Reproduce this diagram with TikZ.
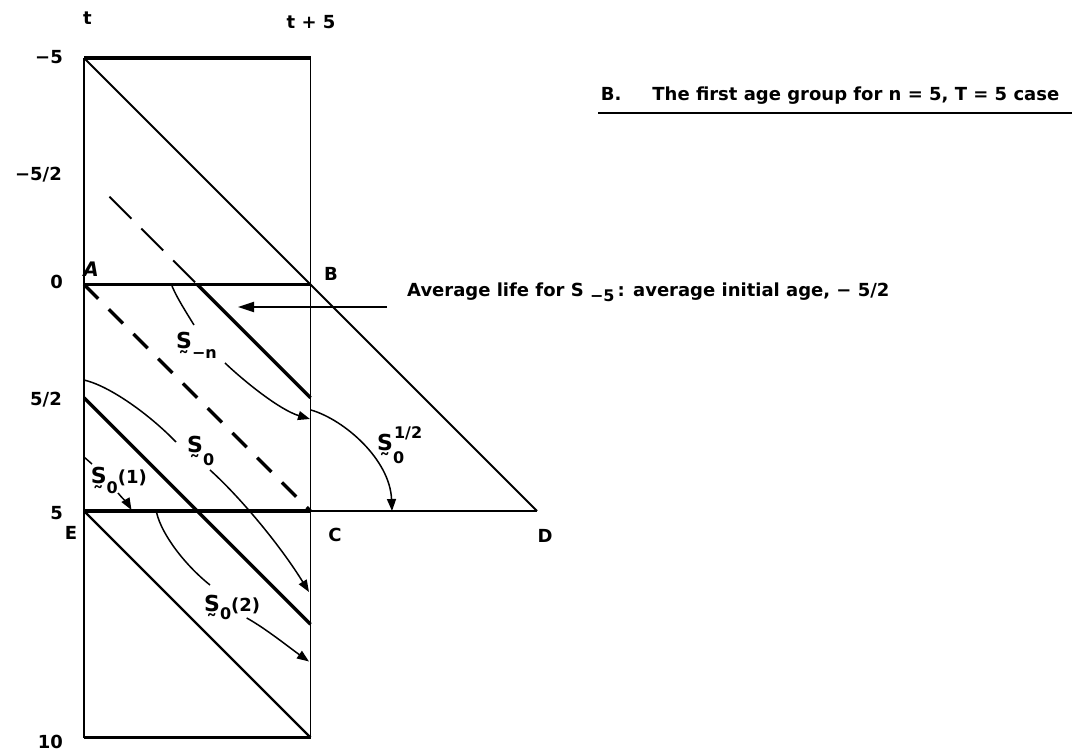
\documentclass[tikz,border=0pt]{standalone}
\usepackage{fontspec}
\setmainfont{DejaVu Sans}
\usetikzlibrary{arrows.meta}
\newcommand{\tilS}{{\fontsize{22}{24}\selectfont S^^^^0330}}
\newcommand{\lowsub}[2][-11pt]{\raisebox{#1}{\fontsize{16}{16}\selectfont #2}}
\newcommand{\highsup}[2][12pt]{\raisebox{#1}{\fontsize{16}{16}\selectfont #2}}
\tikzset{
  lbl/.style={font=\fontsize{18}{20}\selectfont\bfseries, inner sep=0pt},
  thickln/.style={line width=3.4pt},
  normln/.style={line width=2.2pt},
  thinln/.style={line width=1.9pt},
  crv/.style={line width=1.5pt},
  crvarrow/.style={crv, -{Triangle[length=12pt,width=9pt]}},
  bigarrow/.style={line width=1.8pt, -{Triangle[length=16pt,width=10pt]}},
  thickdash/.style={dash pattern=on 20pt off 15pt},
  thindash/.style={dash pattern=on 31pt off 14pt, dash phase=33pt},
}
\begin{document}
\begin{tikzpicture}[x=1pt,y=-1pt]
\useasboundingbox (0,0) rectangle (1089,754);
% key points
\coordinate (TL) at (84,58);
\coordinate (TR) at (310.5,58);
\coordinate (BL) at (84,737.5);
\coordinate (BR) at (310.5,737.5);
\coordinate (A) at (84,284.5);
\coordinate (B) at (310.5,284.5);
\coordinate (E) at (84,511);
\coordinate (C) at (310.5,511);
\coordinate (D) at (537,511);
\coordinate (Lm) at (84,171.25);
\coordinate (Lm2) at (101,188.25);
\coordinate (Hm) at (197.25,284.5);
\coordinate (Rp) at (310.5,397.75);
\coordinate (Lp) at (84,397.75);
\coordinate (R75) at (310.5,624.25);
% frame
\draw[thickln] (TL) -- (TR);
\draw[normln] (TL) -- (BL);
\draw[thinln] (TR) -- (BR);
\draw[normln] (BL) -- (BR);
\draw[thickln] (A) -- (B);
\draw[thickln] (E) -- (C);
\draw[normln] (C) -- (D);
% diagonals
\draw[thinln] (TL) -- (D);
\draw[thinln, thindash] (Lm2) -- (Hm);
\draw[thickln] (Hm) -- (Rp);
\draw[thickln, thickdash] (A) -- (C);
\draw[thickln] (Lp) -- (R75);
\draw[normln] (E) -- (BR);
% axis labels
\node[lbl] (tlab) at (87.5,18) {t};
\node[lbl] (t5lab) at (311,22.5) {t + 5};
\node[lbl, anchor=east] (m5) at (63,57.5) {−5};
\node[lbl, anchor=east] (m52) at (62,175) {−5/2};
\node[lbl, anchor=east] (z0) at (63,281.5) {0};
\node[lbl, anchor=east] (p52) at (62,400) {5/2};
\node[lbl, anchor=east] (p5) at (63,513) {5};
\node[lbl, anchor=east] (p10) at (63,742) {10};
% point labels
\node[lbl, font=\fontsize{20}{22}\selectfont\bfseries\itshape] (Alab) at (91,269) {A};
\node[lbl] (Blab) at (331,274) {B};
\node[lbl] (Clab) at (335,535) {C};
\node[lbl] (Dlab) at (545,536) {D};
\node[lbl] (Elab) at (71,533) {E};
% title
\node[lbl, anchor=base west] (title) at (600.7,100.7) {B.\hspace{31pt}The first age group for n = 5, T = 5 case};
\coordinate (ulL) at (598,113);
\coordinate (ulR) at (1072,113);
\draw[normln] (ulL) -- (ulR);
% average life annotation
\node[lbl, anchor=base west] (avg) at (407,296.7) {Average life for S\ \lowsub[-5pt]{−5}\,: average initial age, − 5/2};
\coordinate (avgtail) at (387,307);
\coordinate (avgtip) at (238,307);
\draw[bigarrow] (avgtail) -- (avgtip);
% S_{-n}
\node[lbl, anchor=base west] (snlab) at (176,348) {\tilS\lowsub[-10pt]{−n}};
\coordinate (sn0) at (172,286);
\coordinate (sn1) at (194,325);
\coordinate (sn2) at (225,363);
\coordinate (sn3) at (310,419);
\draw[crv] (sn0) .. controls (177,298) and (186,312) .. (sn1);
\draw[crvarrow] (sn2) .. controls (245,382) and (280,410) .. (sn3);
% S_0^{1/2}
\node[lbl, anchor=base west] (s12lab) at (377,450) {\tilS\rlap{\hspace{1pt}\highsup{1/2}}\lowsub[-13pt]{0}};
\coordinate (s12a) at (311,410);
\coordinate (s12b) at (392,511);
\draw[crvarrow] (s12a) .. controls (345,420) and (390,460) .. (s12b);
% S_0
\node[lbl, anchor=base west] (s0lab) at (187,452.7) {\tilS\lowsub[-13pt]{0}};
\coordinate (s0a) at (84,380);
\coordinate (s0b) at (176,442);
\coordinate (s0c) at (210,470);
\coordinate (s0d) at (309,592);
\draw[crv] (s0a) .. controls (110,386) and (150,415) .. (s0b);
\draw[crvarrow] (s0c) .. controls (240,497) and (280,545) .. (s0d);
% S_0(1)
\node[lbl, anchor=base west] (s01lab) at (90.7,483) {\tilS\lowsub[-10pt]{0}(1)};
\coordinate (s01a) at (84,457);
\coordinate (s01b) at (92,464);
\coordinate (s01c) at (118,493);
\coordinate (s01d) at (131.5,510);
\draw[crv] (s01a) -- (s01b);
\draw[crvarrow] (s01c) .. controls (123,499) and (128,504) .. (s01d);
% S_0(2)
\node[lbl, anchor=base west] (s02lab) at (204,611.7) {\tilS\lowsub[-8pt]{0}(2)};
\coordinate (s02a) at (156.7,513);
\coordinate (s02b) at (210,585);
\coordinate (s02c) at (246.7,618);
\coordinate (s02d) at (309,661.5);
\draw[crv] (s02a) .. controls (162,535) and (185,565) .. (s02b);
\draw[crvarrow] (s02c) .. controls (265,628) and (290,648) .. (s02d);
\end{tikzpicture}
\end{document}
